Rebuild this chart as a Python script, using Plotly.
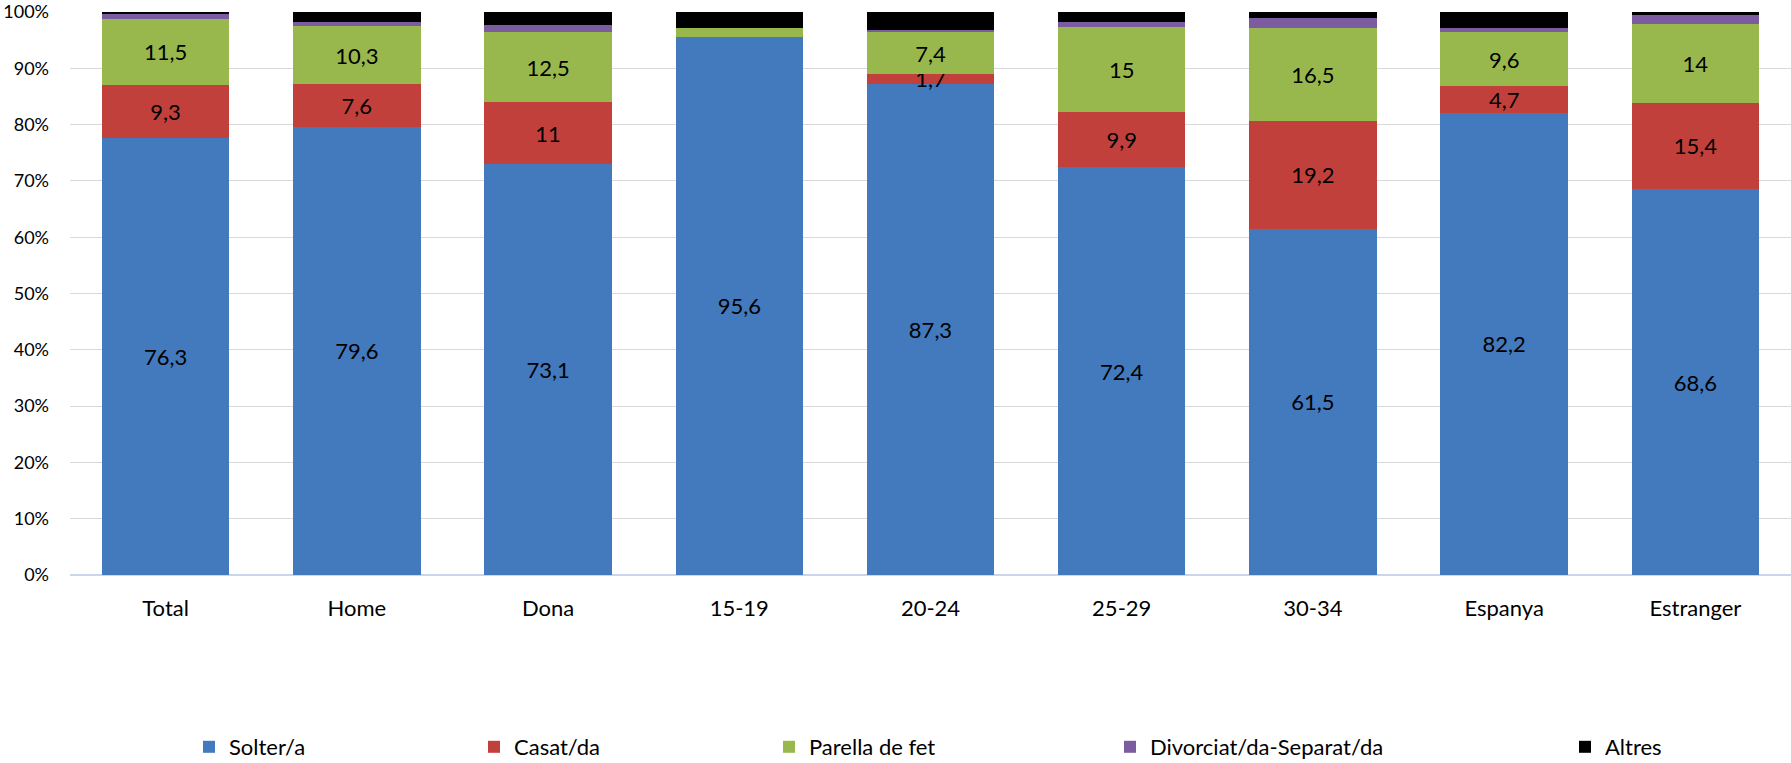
import plotly.graph_objects as go

categories = ["Total", "Home", "Dona", "15-19", "20-24", "25-29", "30-34", "Espanya", "Estranger"]
solter = [76.3, 79.6, 73.1, 95.6, 87.3, 72.4, 61.5, 82.2, 68.6]
casat = [9.3, 7.6, 11.0, 0.0, 1.7, 9.9, 19.2, 4.7, 15.4]
parella = [11.5, 10.3, 12.5, 1.6, 7.4, 15.0, 16.5, 9.6, 14.0]
divorciat = [0.9, 0.7, 1.3, 0.0, 0.4, 0.9, 1.8, 0.7, 1.6]
altres = [0.3, 1.8, 2.3, 2.8, 3.2, 1.8, 1.0, 2.9, 0.5]

series_names = ["Solter/a", "Casat/da", "Parella de fet", "Divorciat/da-Separat/da", "Altres"]
series_values = [solter, casat, parella, divorciat, altres]
colors = ["#4379BD", "#C2403C", "#98B84E", "#7B5CA0", "#000000"]
labelled = [True, True, True, False, False]

FONT = "Lato, 'Open Sans', sans-serif"
W, H = 1791, 763
L, R, T, B = 70, 0, 12, 188

# legend symbol left positions in window pixels
legend_px = [204, 489, 784, 1125, 1580]

def fmt(v):
    return ("%g" % v).replace(".", ",")

fig = go.Figure()
for i, (name, vals) in enumerate(zip(series_names, series_values)):
    if labelled[i]:
        txt = [fmt(v) if (v >= 1.65 and not (categories[j] == "15-19" and i > 0)) else "" for j, v in enumerate(vals)]
    else:
        txt = ["" for _ in vals]
    lg = "legend" if i == 0 else f"legend{i+1}"
    fig.add_trace(go.Bar(
        x=categories, y=vals, name=name,
        marker=dict(color=colors[i], line=dict(width=0)),
        text=txt, textposition="inside", insidetextanchor="middle",
        textangle=0,
        insidetextfont=dict(color="#000000", size=22, family=FONT),
        hoverinfo="name+y",
        legend=lg,
    ))

plot_h = H - T - B
plot_w = W - L - R
layout_legends = {}
for i, px in enumerate(legend_px):
    key = "legend" if i == 0 else f"legend{i+1}"
    layout_legends[key] = dict(
        x=(px - 15 - L) / plot_w, xanchor="left",
        y=-(747 - (H - B)) / plot_h, yanchor="middle",
        orientation="h", font=dict(size=22, family=FONT, color="#000000"),
        bgcolor="rgba(0,0,0,0)", itemwidth=30,
    )

fig.update_layout(
    barmode="stack", barnorm="percent", bargap=0.333,
    width=W, height=H,
    margin=dict(l=L, r=R, t=T, b=B, autoexpand=False),
    paper_bgcolor="white", plot_bgcolor="white",
    font=dict(family=FONT, color="#000000"),
    uniformtext=dict(minsize=22, mode="show"),
    showlegend=True,
    **layout_legends,
)
fig.update_xaxes(
    showgrid=False, showline=False, ticks="",
    tickfont=dict(size=22, family=FONT, color="#000000"),
    ticklabelstandoff=18, ticklabeloverflow="allow",
)
fig.update_yaxes(
    range=[0, 100], dtick=10, ticksuffix="%",
    showgrid=True, gridcolor="#D9D9D9", gridwidth=1,
    zeroline=True, zerolinecolor="#C9D6EC", zerolinewidth=2,
    showline=False, ticks="",
    tickfont=dict(size=18, family=FONT, color="#000000"),
    ticklabelstandoff=20, ticklabeloverflow="allow",
)

fig.write_html(
    "out.html",
    config={"displayModeBar": False},
    post_script="document.body.style.margin='0px';document.body.style.overflow='hidden';",
)
